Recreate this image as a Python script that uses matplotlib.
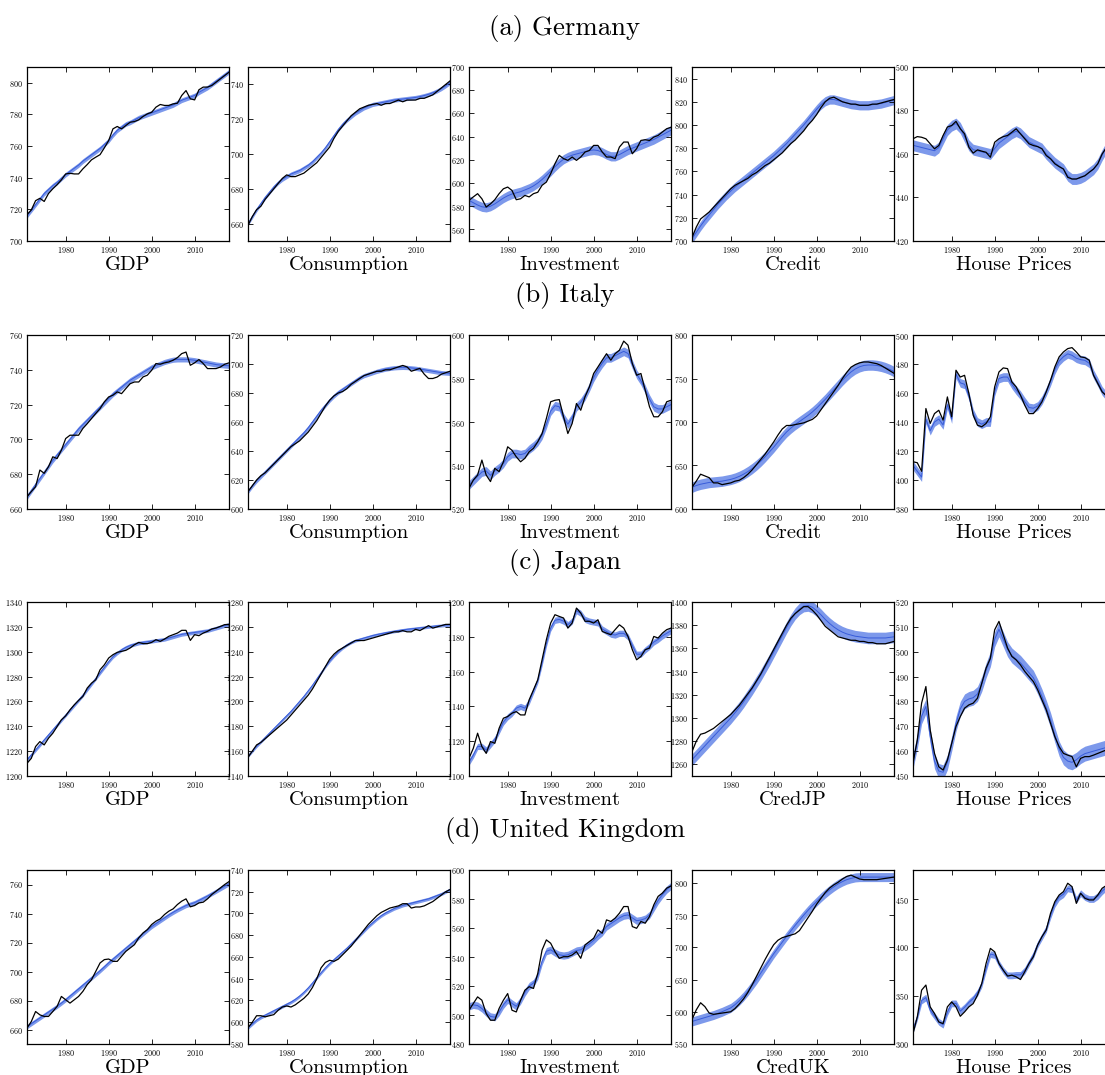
import matplotlib
matplotlib.use("Agg")
import matplotlib.pyplot as plt
from matplotlib.ticker import MultipleLocator, FixedLocator
import numpy as np

plt.rcParams['font.family'] = ['cmr10', 'DejaVu Serif']
plt.rcParams['axes.formatter.use_mathtext'] = True
plt.rcParams['mathtext.fontset'] = 'cm'

years = list(range(1971, 2019))
x_ticks = [1980, 1990, 2000, 2010]

row_titles = ["(a) Germany", "(b) Italy", "(c) Japan", "(d) United Kingdom"]
panel_labels = [
    ["GDP", "Consumption", "Investment", "Credit", "House Prices"],
    ["GDP", "Consumption", "Investment", "Credit", "House Prices"],
    ["GDP", "Consumption", "Investment", "CredJP", "House Prices"],
    ["GDP", "Consumption", "Investment", "CredUK", "House Prices"],
]

# ---------------- Germany ----------------
de_gdp = [716.7, 719.6, 725.5, 727, 725, 730, 733, 735.6, 738.6, 742.4,
          742.8, 742.4, 742.4, 745.6, 748.3, 751.3, 753, 754.6, 758.9, 763.5,
          770.9, 772.4, 770.9, 773, 775.1, 775.5, 776.6, 778.7, 780.4, 781.4,
          784.6, 786.3, 785.7, 785.7, 786.7, 787.1, 792, 795.1, 789.9, 789.2,
          795.6, 797.3, 797.3, 798.3, 800.4, 802.5, 804.6, 806.7]
de_gdp_trend = [716, 719.5, 723, 726.5, 730, 732.5, 735, 737, 739.5, 742,
                744, 746, 748, 750.5, 752.5, 754.5, 756.5, 758.5, 761, 763.5,
                767, 770, 772, 774, 775, 776.5, 778, 779, 780, 781,
                782, 783, 784, 785, 786, 787.5, 789, 790, 791, 792,
                794, 795.5, 797, 799, 801, 803, 805, 807]
de_con = [659, 664, 668, 670, 674, 677, 680, 683, 686, 688,
          687, 687, 688, 689, 691, 693, 695, 698, 701, 704,
          709, 713, 716, 719, 722, 724, 726, 727, 728, 728.5,
          729, 728, 729, 729, 730, 731, 730, 731, 731, 731,
          732, 732, 733, 734, 736, 738, 740, 742]
de_con_trend = [660, 664, 668, 671.5, 675, 678, 681, 683.5, 685.5, 687,
                688.5, 689.5, 690.5, 692, 693.5, 695.5, 698, 700.5, 703.5, 707,
                710.5, 714, 717, 719.5, 721.5, 723.5, 725, 726.5, 727.5, 728.5,
                729, 729.5, 730, 730.5, 731, 731.3, 731.6, 731.9, 732.2, 732.5,
                733, 733.6, 734.3, 735.2, 736.3, 737.6, 739.2, 741]
de_inv = [585, 588, 590.8, 586.4, 579.3, 582, 585.6, 590.8, 595, 596.5,
          593.6, 585.6, 586.4, 589.3, 588, 590.8, 592, 598, 600.8, 608,
          616.6, 623.8, 621, 619.5, 622.4, 619.5, 622.4, 626.7, 628, 632.4,
          632.4, 626.7, 622.4, 622.4, 621, 631, 635.3, 635.3, 625.2, 629.6,
          636.7, 637.3, 636.7, 639.6, 641, 644, 646.8, 648]
de_inv_trend = [585, 583, 581, 579.5, 579, 580, 582, 584.5, 587, 589,
                590.5, 591.5, 592.5, 594, 595.5, 597.5, 600, 603, 606.5, 610,
                614, 617.5, 620.5, 622.5, 624, 625, 626, 627, 628, 628.5,
                628, 626.5, 624.5, 623, 623, 624.5, 626.5, 628.5, 630, 631.5,
                633, 634.5, 636, 637.5, 639.5, 641.5, 643.5, 645.5]
de_cre = [703, 712, 719, 722, 725, 729, 733, 737, 741, 745,
          748, 750, 752, 754, 757, 759, 762, 765, 767, 770,
          773, 776, 780, 784, 787, 791, 795, 800, 804, 809,
          815, 820, 823, 824, 822, 820, 819, 818, 818, 817,
          817, 817, 818, 818, 819, 820, 821, 822]
de_cre_trend = [702, 707.5, 713, 718, 722.5, 727, 731.5, 735.5, 739.5, 743,
                746.5, 749.5, 752.5, 755.5, 758.5, 761.5, 764.5, 767.5, 770.5, 773.5,
                777, 780.5, 784, 788, 792, 796, 800, 804.5, 809, 813.5,
                817.5, 820.5, 822, 822, 821, 820, 819, 818, 817.5, 817,
                817, 817, 817.5, 818, 818.5, 819.5, 820.5, 821.5]
de_hp = [467, 468, 467.7, 467, 464.7, 462.4, 463.9, 468.5, 472.4, 473.1,
         475, 471.6, 469.3, 463.1, 460.4, 461.9, 461.3, 460.8, 458.5, 465.4,
         467, 468, 468.5, 470, 471.6, 469.3, 467, 464.7, 463.9, 463.4,
         462.4, 459.3, 457.8, 455.5, 454.2, 453.1, 449.3, 448.5, 448.5, 449.3,
         450, 451.6, 453.1, 455.5, 460, 463, 466, 469]
de_hp_trend = [464, 463.5, 463, 462.5, 462, 461.5, 463, 467, 471, 473,
               474, 472, 468, 464, 462, 461.5, 461, 460.5, 460, 462.5,
               465, 466.5, 468, 469.5, 470.5, 469.5, 467.5, 465.5, 464.5, 463.5,
               462.5, 460, 458, 456, 454.5, 453, 450, 448.5, 448.5, 449,
               450, 451.5, 453, 455.5, 459.5, 463, 466, 469]

# ---------------- Italy ----------------
it_gdp = [667, 670, 672.8, 682.4, 680.5, 684.3, 690, 689, 693.8, 700.5,
          702.4, 702.4, 702.4, 706.3, 709, 712, 714.9, 717.7, 721.6, 724.4,
          725.4, 727.3, 726.3, 729.2, 732, 733, 733, 735.9, 736.9, 739.7,
          743.6, 743.2, 744, 744.5, 745.5, 747, 749.3, 750.2, 742.6, 744,
          745.9, 743.6, 740.7, 740.7, 740.7, 741.6, 743.2, 744]
it_gdp_trend = [667, 670.5, 674, 677.5, 681, 684.5, 688, 691, 694, 697,
                700, 703, 706, 708.5, 711, 713.5, 716, 718.5, 721, 723.5,
                726, 728, 730, 732, 734, 735.5, 737, 738.5, 740, 741.5,
                742.5, 743.5, 744.5, 745.2, 745.8, 746, 746, 746, 745.8, 745.5,
                745, 744.5, 744, 743.5, 743, 742.7, 742.5, 742.3]
it_con = [612, 616, 620, 623, 625, 628, 631, 634, 637, 640,
          643, 645, 647, 650, 653, 657, 661, 666, 671, 675,
          678, 680, 681, 683, 686, 688, 690, 692, 693, 694,
          695, 695, 696, 696, 697, 698, 699, 698, 695, 696,
          697, 693, 690, 690, 691, 693, 694, 695]
it_con_trend = [612, 616, 619.5, 622.5, 625.5, 628.5, 631.5, 634.5, 637.5, 640.5,
                643.5, 646.5, 649.5, 652.5, 656, 660, 664, 668, 671.5, 675,
                678, 680.5, 682.5, 684.5, 686.5, 688.5, 690.5, 692, 693, 694,
                695, 695.8, 696.5, 697, 697.4, 697.6, 697.7, 697.6, 697.3, 697,
                696.5, 696, 695.5, 695, 694.5, 694, 693.8, 693.6]
it_inv = [529.5, 533.3, 535.6, 542.5, 535.6, 532.6, 538.7, 537.2, 541.7, 548.6,
          547, 544, 541.7, 543.3, 546.3, 547.9, 550.9, 554.7, 561.6, 569.3,
          570, 570.3, 562.4, 554.7, 559.3, 568.5, 565.4, 571.6, 576.1, 582.3,
          585.3, 588.4, 591.4, 588.4, 591.4, 593, 597.2, 595.3, 586.9, 581.5,
          582.3, 574.6, 567, 562.4, 562.4, 564.7, 569.3, 570]
it_inv_trend = [531, 533, 535, 537, 537.5, 535.5, 537.5, 539, 541, 544,
                545.5, 545.5, 545, 545.5, 547.5, 549, 551, 554, 559, 565,
                567.5, 567, 562, 559, 562, 567, 569, 572, 576, 580.5,
                584, 587, 589.5, 589.5, 590.5, 591.5, 592.5, 591.5, 586.5, 582,
                579, 575, 570.5, 567, 566, 566, 567, 568]
it_cre = [625, 632, 640, 638, 636, 630, 630, 628, 629, 630,
          632, 633, 636, 640, 645, 651, 657, 663, 670, 677,
          685, 692, 696, 696, 697, 698, 699, 701, 703, 707,
          714, 721, 728, 735, 742, 750, 757, 763, 766, 768,
          769, 769, 768, 767, 765, 762, 759, 756]
it_cre_trend = [625, 627, 628.5, 629.5, 630.5, 631, 631.5, 632, 633, 634,
                635.5, 637.5, 640, 643, 646.5, 650.5, 655, 660, 665.5, 671,
                677, 683, 688.5, 693, 697, 700.5, 704, 707.5, 711.5, 716,
                721, 726, 731.5, 737, 742.5, 748, 753, 757.5, 761, 763.5,
                765, 765.5, 765.5, 765, 764, 762.5, 760.5, 758]
it_hp = [412.6, 411.9, 406, 449.3, 439, 445.8, 448.1, 441.3, 457.3, 443.6,
         475.7, 471, 472.2, 459.6, 444.7, 437.8, 436.7, 439, 443.6, 464.2,
         474.5, 477.3, 476.8, 467.6, 464.2, 458.5, 451.6, 445.8, 445.8, 449.3,
         453.9, 460.8, 468.8, 478, 484.9, 488.3, 490.6, 491.3, 488.3, 484.9,
         484.4, 482.6, 472.2, 466.5, 460.8, 458, 456, 455]
it_hp_trend = [410, 406, 402, 442, 434, 440, 442, 438, 452, 442,
               473, 467, 466, 458, 446, 440, 438.5, 440, 440, 461,
               470, 471, 471, 466, 462, 458.5, 454, 450, 449.5, 451,
               455, 461, 468, 476, 482, 485, 487, 486, 484, 483,
               482.5, 480.5, 473, 467.5, 461.5, 458, 456, 455]

# ---------------- Japan ----------------
jp_gdp = [1210.2, 1214.2, 1223.7, 1227.7, 1225, 1230.4, 1234.4, 1239.8, 1245.2, 1248.4,
          1253.2, 1257.3, 1260.8, 1264, 1270.7, 1274.7, 1277.4, 1285.5, 1289.5, 1294.9,
          1297.6, 1299.5, 1300.3, 1301.1, 1303, 1305.6, 1307.5, 1306.5, 1306.5, 1307.5,
          1309.7, 1308.3, 1310.2, 1312.4, 1313.7, 1315, 1317.2, 1317.2, 1309.1, 1313.7,
          1312.9, 1315, 1316.4, 1318.3, 1319.1, 1320.4, 1321.8, 1322]
jp_gdp_trend = [1213, 1217, 1221, 1225, 1229, 1233, 1237, 1241, 1245, 1249,
                1253, 1257, 1261, 1265, 1269.5, 1274, 1278.5, 1283, 1287.5, 1292,
                1296, 1299, 1301.5, 1303.5, 1305, 1306, 1307, 1307.5, 1308, 1308.5,
                1309, 1309.5, 1310, 1311, 1312, 1313, 1314, 1314.5, 1315, 1315.5,
                1316, 1316.5, 1317, 1318, 1319, 1320, 1321, 1322]
jp_con = [1155, 1160, 1165, 1167, 1170, 1173, 1176, 1179, 1182, 1185,
          1189, 1193, 1197, 1201, 1205, 1210, 1216, 1222, 1228, 1234,
          1238, 1241, 1243, 1245, 1247, 1249, 1249, 1249, 1250, 1251,
          1252, 1253, 1254, 1255, 1256, 1256, 1257, 1256, 1256, 1258,
          1257, 1259, 1261, 1259, 1260, 1261, 1262, 1262]
jp_con_trend = [1156, 1160, 1164, 1167.5, 1171, 1174.5, 1178, 1181.5, 1185, 1188.5,
                1192, 1196, 1200, 1204, 1208.5, 1213, 1218, 1223, 1228, 1232.5,
                1236.5, 1240, 1243, 1245.5, 1247.5, 1249, 1250, 1251, 1252, 1253,
                1253.8, 1254.5, 1255.2, 1255.8, 1256.4, 1257, 1257.5, 1258, 1258.4, 1258.8,
                1259.2, 1259.6, 1260, 1260.4, 1260.8, 1261.1, 1261.4, 1261.7]
jp_inv = [1110.2, 1115.9, 1124.6, 1116.9, 1113, 1119.8, 1118.8, 1127.4, 1133.2, 1134.2,
          1136.1, 1137, 1135.1, 1135.1, 1143.8, 1149.5, 1155.3, 1166.8, 1178.3, 1187.9,
          1192.7, 1191.7, 1190.8, 1185, 1187.9, 1196.5, 1193.7, 1188.9, 1188.9, 1187.9,
          1189.8, 1183.1, 1182.1, 1181.2, 1184.1, 1186.9, 1185, 1180.2, 1172.6, 1166.8,
          1168.7, 1172.6, 1173.5, 1180.2, 1179.3, 1182.1, 1184.1, 1185]
jp_inv_trend = [1108, 1112, 1117, 1117, 1115, 1118, 1121, 1126, 1131, 1134,
                1136, 1139, 1140, 1139, 1143, 1149, 1155, 1165, 1176, 1185,
                1189.5, 1190, 1189, 1187, 1189, 1195, 1193.5, 1190, 1189, 1188.5,
                1188, 1184.5, 1183, 1181.5, 1181, 1182, 1182, 1180, 1175, 1170,
                1170, 1172.5, 1174.5, 1177, 1178.5, 1180.5, 1182, 1183.5]
jp_cre = [1271, 1280, 1286, 1287, 1289, 1291, 1294, 1297, 1300, 1303,
          1307, 1311, 1316, 1321, 1326, 1332, 1338, 1345, 1352, 1359,
          1366, 1373, 1380, 1386, 1390, 1393, 1396, 1396, 1393, 1389,
          1384, 1379, 1376, 1373, 1370, 1369, 1368, 1367, 1367, 1366,
          1366, 1365, 1365, 1364, 1364, 1364, 1365, 1366]
jp_cre_trend = [1264, 1268, 1272, 1276, 1280, 1284, 1288, 1292, 1296, 1300,
                1304.5, 1309, 1314, 1319.5, 1325, 1331, 1337, 1343.5, 1350, 1357,
                1364, 1371, 1378, 1384.5, 1390, 1394, 1396.5, 1397, 1395.5, 1392.5,
                1389, 1385, 1381.5, 1378.5, 1376, 1374, 1372.5, 1371.5, 1370.5, 1370,
                1369.5, 1369, 1369, 1369, 1369, 1369, 1369.5, 1370]
jp_hp = [455.1, 464.5, 479.3, 486, 468.5, 459.1, 453.7, 452.4, 456.4, 463.1,
         469.9, 473.9, 477.3, 478.6, 479.3, 481.3, 487.3, 493.4, 497.4, 508.8,
         512.2, 506.8, 501.5, 498.1, 496.7, 494.7, 492.1, 490, 488, 484.7,
         480.6, 476.6, 471.2, 465.8, 461.8, 459.1, 458.4, 457.8, 453.7, 457.1,
         457.8, 457.8, 458.4, 459.1, 459.8, 460.5, 461, 461.5]
jp_hp_trend = [456, 464, 474, 478, 466, 456, 452, 451.5, 455.5, 463,
               471, 477, 480, 481, 481.5, 483, 487, 492.5, 497, 505,
               509, 505, 501, 498.5, 497, 495.5, 493.5, 491.5, 489.5, 486,
               482, 477.5, 472.5, 466.5, 461, 457.5, 456, 455.5, 456.5, 458,
               459, 459.5, 460, 460.5, 461, 461.5, 462, 462.5]

# ---------------- United Kingdom ----------------
uk_gdp = [661, 665.5, 672.4, 670.1, 669, 669, 672.4, 675.9, 682.8, 680.5,
          678.2, 680.5, 682.8, 686.3, 690.9, 694.3, 700.1, 705.9, 708.2, 708.6,
          707, 707, 710.5, 713.9, 716.2, 718.5, 723.2, 726.6, 728.9, 732.4,
          734.7, 736.3, 739.3, 741.6, 743.2, 746.2, 748.5, 750.1, 744.6, 745.5,
          747.3, 747.8, 750.1, 753.1, 755.4, 757.7, 760, 762]
uk_gdp_trend = [662, 664, 666, 668, 670, 672, 674, 676, 678.2, 680.5,
                683, 685.5, 688, 690.5, 693, 695.5, 698, 700.5, 703.2, 706,
                708.5, 711, 713.5, 716, 718.5, 721, 723.5, 726, 728.5, 731,
                733, 735, 737, 739, 740.8, 742.5, 744, 745.5, 746.5, 747.5,
                749, 750.5, 752, 753.7, 755.4, 757.1, 758.8, 760.5]
uk_con = [595, 600, 606, 606, 605, 606, 607, 611, 614, 615,
          614, 616, 619, 622, 626, 632, 640, 650, 655, 657,
          656, 658, 662, 666, 670, 675, 680, 685, 690, 694,
          698, 701, 703, 705, 706, 707, 709, 709, 705, 706,
          706, 707, 709, 711, 714, 717, 720, 722]
uk_con_trend = [595, 598.5, 602, 604.5, 606.5, 608.5, 610.5, 612.5, 614.5, 616.5,
                618.5, 621, 624, 627.5, 631.5, 636, 641, 645.5, 650, 654,
                657.5, 661, 664.5, 668, 672, 676, 680, 684, 688, 691.5,
                695, 698, 700.5, 702.5, 704.5, 706, 707.5, 708.5, 709.5, 710.5,
                711.5, 712.5, 713.5, 715, 716.5, 718, 720, 722]
uk_inv = [503.3, 507.9, 512.5, 510.2, 501, 496.4, 496.4, 504.5, 510.2, 514.8,
          503.3, 502.1, 510.2, 517.1, 519.5, 518.3, 528.7, 544.8, 551.8, 549.5,
          543.7, 539.1, 540.2, 540.2, 541.4, 543.7, 539.1, 548.3, 550.6, 552.9,
          558.7, 556.4, 565.6, 564.5, 566.8, 570.2, 574.8, 574.8, 561, 559.8,
          564.5, 563.3, 567.9, 576, 581.8, 584.1, 587.5, 589]
uk_inv_trend = [506, 507, 506.5, 504.5, 501.5, 499, 498.5, 502, 507, 510.5,
                508, 506, 510, 515.5, 520, 522, 527, 537, 544, 545,
                543, 541.5, 541, 541.5, 543, 544.5, 545, 547, 549, 551.5,
                554.5, 557, 561, 563, 565, 567, 568.5, 569, 567, 565,
                565.5, 566.5, 569, 574, 579, 583, 586.5, 589]
uk_cre = [588, 603, 614, 608, 598, 596, 597, 598, 599, 600,
          605, 612, 620, 630, 642, 655, 668, 681, 693, 704,
          711, 715, 717, 719, 721, 726, 736, 746, 756, 767,
          776, 785, 792, 797, 801, 806, 810, 812, 809, 806,
          805, 805, 805, 805, 806, 807, 808, 809]
uk_cre_trend = [585, 587, 589, 591, 593, 595, 597.5, 600, 603, 606,
                611, 617, 624, 632, 641, 650, 660, 670, 680, 690,
                699, 708, 717, 725.5, 734, 742, 750, 757.5, 764.5, 771,
                777.5, 783.5, 789, 794, 798.5, 802, 805, 807, 808.5, 809,
                809, 809, 809, 809, 809, 809, 809, 809]
uk_hp = [310.7, 328, 355.7, 361, 338.4, 331.5, 322.8, 321.1, 338.4, 343.6,
         338.4, 328.7, 333.2, 338.4, 341.8, 350.5, 362.6, 383.3, 398.9, 395.4,
         383.3, 376.4, 370.2, 371.2, 369.5, 366.7, 374.7, 383.3, 390.2, 402.3,
         411, 417.9, 435.2, 447.2, 454.1, 457.6, 466.3, 462.8, 445.5, 455.9,
         450.7, 449, 449, 454.2, 461.1, 464, 466, 468]
uk_hp_trend = [315, 328, 345, 348, 335, 329, 323, 320, 333, 342,
               342, 334, 338, 343, 347, 353, 362, 378, 393, 392,
               383, 376, 371, 371, 371.5, 371.5, 376, 384, 392, 403,
               411, 419, 433, 445, 452, 455, 461, 460, 449, 456,
               452, 450, 450, 453, 458, 462, 465, 467]

series = [
    [(de_gdp, de_gdp_trend), (de_con, de_con_trend), (de_inv, de_inv_trend),
     (de_cre, de_cre_trend), (de_hp, de_hp_trend)],
    [(it_gdp, it_gdp_trend), (it_con, it_con_trend), (it_inv, it_inv_trend),
     (it_cre, it_cre_trend), (it_hp, it_hp_trend)],
    [(jp_gdp, jp_gdp_trend), (jp_con, jp_con_trend), (jp_inv, jp_inv_trend),
     (jp_cre, jp_cre_trend), (jp_hp, jp_hp_trend)],
    [(uk_gdp, uk_gdp_trend), (uk_con, uk_con_trend), (uk_inv, uk_inv_trend),
     (uk_cre, uk_cre_trend), (uk_hp, uk_hp_trend)],
]

band_half_width = [
    [1.5, 1.2, 4.0, 4.0, 2.5],
    [1.5, 1.5, 2.0, 6.0, 3.0],
    [1.5, 1.2, 1.8, 5.0, 3.0],
    [1.5, 1.5, 2.5, 7.0, 3.5],
]

y_limits = [
    [(700, 810), (650, 750), (550, 700), (700, 850), (420, 500)],
    [(660, 760), (600, 720), (520, 600), (600, 800), (380, 500)],
    [(1200, 1340), (1140, 1280), (1100, 1200), (1250, 1400), (450, 520)],
    [(650, 770), (580, 740), (480, 600), (550, 820), (300, 480)],
]
y_steps = [
    [20, 20, 20, 20, 20],
    [20, 20, 20, 50, 20],
    [20, 20, 20, 20, 10],
    [20, 20, 20, 50, 50],
]

# layout in pixels
W, H = 1105, 1075
col_left = [27, 248, 469, 692, 913]
row_top = [67, 335, 602, 870]
ax_w, ax_h = 202, 174
title_y = [28, 296, 563, 831]

fig = plt.figure(figsize=(W / 100, H / 100), dpi=100)

band_color = (0.40, 0.53, 0.91)
trend_color = (0.22, 0.36, 0.85)

for r in range(4):
    fig.text(565 / W, 1 - title_y[r] / H, row_titles[r], ha='center', va='center',
             fontsize=19.3)
    for c in range(5):
        left = col_left[c] / W
        bottom = 1 - (row_top[r] + ax_h) / H
        ax = fig.add_axes([left, bottom, ax_w / W, ax_h / H])
        data, trend = series[r][c]
        t = np.array(trend, dtype=float)
        w = band_half_width[r][c]
        ax.fill_between(years, t - w, t + w, color=band_color, alpha=0.85, lw=0)
        ax.plot(years, t, color=trend_color, lw=0.7)
        ax.plot(years, data, color='black', lw=0.9)
        ax.set_xlim(1971, 2018)
        ax.set_ylim(*y_limits[r][c])
        ax.xaxis.set_major_locator(FixedLocator(x_ticks))
        ax.yaxis.set_major_locator(MultipleLocator(y_steps[r][c]))
        ax.tick_params(direction='in', length=3.5, width=0.6, top=True, right=True,
                       labelsize=5.8, pad=3)
        for sp in ax.spines.values():
            sp.set_linewidth(0.9)
        ax.text(0.5, -24 / ax_h, panel_labels[r][c], transform=ax.transAxes,
                ha='center', va='center', fontsize=14.8)

fig.savefig("out.png", dpi=100)
